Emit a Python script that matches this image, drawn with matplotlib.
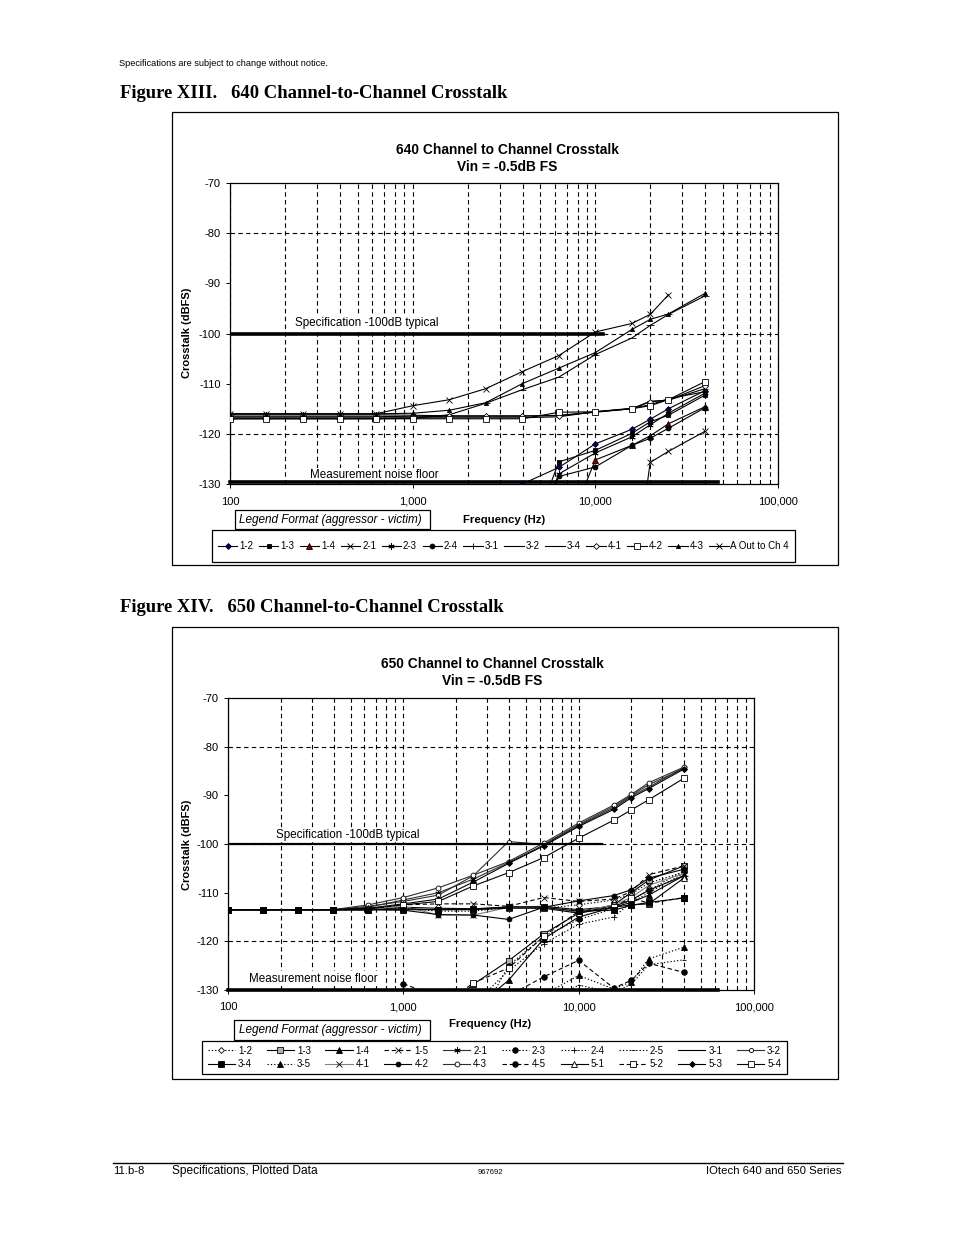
import numpy as np
import matplotlib
matplotlib.use('Agg')
import matplotlib.pyplot as plt
from matplotlib.patches import Rectangle
from matplotlib.lines import Line2D
from matplotlib.ticker import FuncFormatter, NullFormatter

plt.rcParams['font.family'] = ['Liberation Sans', 'DejaVu Sans']
plt.rcParams['axes.unicode_minus'] = False

nan = np.nan
W, H = 954, 1235

# test frequencies (Hz), shared by both charts
freq = [100, 158, 251, 398, 631, 1000, 1585, 2512, 3981, 6310, 10000, 15849, 19953, 25119, 39811]

# ---- 640 crosstalk (dBFS) ----
t_12 = [nan, nan, nan, nan, nan, nan, nan, nan, -130.0, -126.7, -122.0, -119.1, -117.1, -115.0, -111.4]
t_13 = [nan, nan, nan, nan, nan, nan, nan, nan, -145.0, -125.6, -123.3, -119.9, -117.6, -116.3, -112.3]
t_14 = [nan, nan, nan, nan, nan, nan, nan, nan, nan, -143.0, -125.2, -122.3, -120.4, -118.0, -114.6]
t_21 = [-116.0, -116.0, -116.0, -116.0, -116.0, -114.4, -113.2, -111.0, -107.6, -104.4, -99.7, -98.0, -96.2, -92.3, nan]
t_23 = [nan, nan, nan, nan, nan, nan, nan, nan, -146.0, -128.0, -123.8, -120.6, -118.2, -115.9, -111.9]
t_24 = [nan, nan, nan, nan, nan, nan, nan, nan, -147.0, -128.5, -126.6, -122.3, -120.9, -118.9, -114.8]
t_31 = [-116.5, -116.5, -116.5, -116.5, -116.5, -116.6, -116.5, -116.5, -116.5, -116.3, -115.7, -115.0, -113.5, -113.3, -111.0]
t_32 = [-116.8, -116.8, -116.8, -116.8, -116.8, -116.8, -116.8, -116.8, -116.8, -116.6, -115.6, -114.9, -114.2, -113.0, -111.6]
t_34 = [-117.0, -117.0, -117.0, -117.0, -117.0, -116.9, -116.2, -113.9, -111.2, -108.7, -104.2, -100.9, -98.4, -96.2, -92.5]
t_41 = [-116.2, -116.2, -116.2, -116.2, -116.2, -116.3, -116.4, -116.4, -116.4, -116.4, -115.6, -115.0, -113.6, -113.3, -110.4]
t_42 = [-117.0, -117.0, -117.0, -117.0, -117.0, -117.0, -117.0, -117.0, -117.0, -115.7, -115.6, -115.0, -114.4, -113.2, -109.6]
t_43 = [-116.0, -116.0, -116.0, -116.0, -116.0, -115.9, -115.3, -113.8, -110.0, -106.9, -103.8, -99.2, -97.2, -96.1, -92.0]
t_aout = [nan, nan, nan, nan, nan, nan, nan, nan, nan, nan, nan, -153.0, -125.7, -123.5, -119.5]

labels_640 = ['1-2', '1-3', '1-4', '2-1', '2-3', '2-4', '3-1', '3-2', '3-4', '4-1', '4-2', '4-3', 'A Out to Ch 4']
series_640 = [t_12, t_13, t_14, t_21, t_23, t_24, t_31, t_32, t_34, t_41, t_42, t_43, t_aout]

# ---- 650 crosstalk (dBFS) ----
b_12 = [-113.5, -113.5, -113.5, -113.5, -113.5, -113.2, -113.8, -113.8, -113.0, -113.2, -112.5, -111.5, -110.3, -108.0, -105.8]
b_13 = [nan, nan, nan, nan, nan, nan, -135.0, -128.8, -124.0, -118.5, -114.2, -112.5, -110.0, -107.4, -104.5]
b_14 = [nan, nan, nan, nan, nan, nan, nan, -134.0, -128.0, -119.5, -115.0, -113.0, -112.0, -110.5, -106.5]
b_15 = [-113.5, -113.5, -113.5, -113.5, -113.5, -112.5, -112.3, -112.3, -112.8, -111.0, -111.8, -111.3, -109.8, -106.3, -104.5]
b_21 = [-113.5, -113.5, -113.5, -113.5, -113.0, -111.5, -110.0, -107.2, -103.8, -100.2, -96.2, -92.6, -90.2, -88.3, -84.3]
b_23 = [nan, nan, nan, nan, nan, nan, nan, -138.0, -125.0, -119.0, -115.5, -113.3, -111.5, -109.5, -105.5]
b_24 = [nan, nan, nan, nan, nan, nan, nan, -133.0, -126.0, -120.5, -116.5, -115.0, -112.0, -110.0, -106.0]
b_25 = [nan, nan, nan, nan, nan, nan, nan, nan, nan, -133.0, -129.0, -130.5, -128.8, -124.8, -123.8]
b_31 = [-113.5, -113.5, -113.5, -113.5, -113.5, -113.0, -113.2, -113.3, -113.0, -112.8, -113.5, -112.8, -111.5, -109.5, -106.5]
b_32 = [-113.5, -113.5, -113.5, -113.5, -112.8, -111.8, -110.5, -106.5, -99.5, -100.1, -96.0, -92.3, -90.0, -87.8, -84.5]
b_34 = [-113.5, -113.5, -113.5, -113.5, -113.5, -113.5, -113.5, -113.4, -112.9, -113.0, -113.8, -113.6, -112.6, -112.0, -111.1]
b_35 = [nan, nan, nan, nan, nan, nan, nan, nan, -135.0, -131.0, -127.0, -129.8, -128.3, -123.6, -121.2]
b_41 = [-113.5, -113.5, -113.5, -113.5, -113.5, -112.8, -114.6, -114.6, -113.0, -113.0, -114.0, -112.5, -111.0, -108.5, -106.0]
b_42 = [-113.5, -113.5, -113.5, -113.5, -113.5, -113.6, -114.5, -114.6, -115.5, -113.0, -111.7, -110.6, -109.4, -107.0, -105.2]
b_43 = [-113.5, -113.5, -113.5, -113.5, -112.5, -111.0, -109.0, -106.4, -103.6, -99.8, -95.7, -92.0, -89.8, -87.4, -84.2]
b_45 = [nan, nan, nan, nan, nan, -128.7, -131.5, -133.0, -131.2, -127.3, -123.9, -129.6, -128.0, -124.5, -126.4]
b_51 = [-113.5, -113.5, -113.5, -113.5, -113.5, -113.3, -113.5, -113.5, -113.2, -113.2, -114.2, -113.0, -112.5, -112.3, -107.0]
b_52 = [nan, nan, nan, nan, nan, nan, -134.0, -128.5, -125.5, -119.0, -113.8, -113.0, -111.0, -112.2, -111.0]
b_53 = [-113.5, -113.5, -113.5, -113.5, -113.2, -112.3, -111.3, -107.8, -104.0, -100.4, -96.4, -92.9, -90.5, -88.6, -84.6]
b_54 = [-113.5, -113.5, -113.5, -113.5, -113.3, -112.5, -111.8, -108.6, -105.9, -102.8, -98.8, -95.1, -93.0, -90.9, -86.5]

labels_650 = ['1-2', '1-3', '1-4', '1-5', '2-1', '2-3', '2-4', '2-5', '3-1', '3-2',
              '3-4', '3-5', '4-1', '4-2', '4-3', '4-5', '5-1', '5-2', '5-3', '5-4']
series_650 = [b_12, b_13, b_14, b_15, b_21, b_23, b_24, b_25, b_31, b_32,
              b_34, b_35, b_41, b_42, b_43, b_45, b_51, b_52, b_53, b_54]

spec_level = -100
noise_640 = -129.7
noise_650 = -130

# ---- styles ----
DOT = (0, (1.2, 1.8))
DASH = (0, (4, 2.5))
asterisk = (6, 2, 0)
# (linestyle, line colour, marker, size, face colour)
styles_640 = [
    ('-', 'black', 'D', 3, '#000080'),
    ('-', 'black', 's', 3.5, 'black'),
    ('-', 'black', '^', 4, '#800000'),
    ('-', 'black', 'x', 4, 'none'),
    ('-', 'black', asterisk, 4.5, 'black'),
    ('-', 'black', 'o', 3.5, 'black'),
    ('-', 'black', '+', 5, 'black'),
    ('-', 'black', '_', 3.5, 'black'),
    ('-', 'black', '_', 5.5, 'black'),
    ('-', 'black', 'D', 3, 'white'),
    ('-', 'black', 's', 4, 'white'),
    ('-', 'black', '^', 3, 'black'),
    ('-', 'black', 'x', 4, 'none'),
]
styles_650 = [
    (DOT, 'black', 'D', 3, 'white'),
    ('-', 'black', 's', 4, '#b0b0b0'),
    ('-', 'black', '^', 4, 'black'),
    (DASH, 'black', 'x', 4, 'none'),
    ('-', '#303030', asterisk, 4.5, 'black'),
    (DOT, 'black', 'o', 4, 'black'),
    (DOT, 'black', '+', 5, 'black'),
    (DOT, 'black', '_', 3.5, 'black'),
    ('-', 'black', '_', 5.5, 'black'),
    ('-', '#303030', 'o', 3, 'white'),
    ('-', 'black', 's', 4.5, 'black'),
    (DOT, 'black', '^', 4, 'black'),
    ('-', '#808080', 'x', 4, 'none'),
    ('-', 'black', 'o', 3.5, 'black'),
    ('-', '#303030', 'o', 3.5, 'white'),
    (DASH, 'black', 'o', 4, 'black'),
    ('-', 'black', '^', 4, 'white'),
    (DASH, 'black', 's', 4, 'white'),
    ('-', 'black', 'D', 3, 'black'),
    ('-', 'black', 's', 4, 'white'),
]
# series whose markers sit on top of the crowded flat section
front_640 = ['1-3', '2-3']
front_650 = ['3-4']


def fx(px):
    return px / W


def fy(py):
    return 1 - py / H


fig = plt.figure(figsize=(W / 100, H / 100), dpi=100)


def box(x0, y0, x1, y1, lw=0.9):
    fig.add_artist(Rectangle((fx(x0), fy(y1)), fx(x1) - fx(x0), fy(y0) - fy(y1),
                             transform=fig.transFigure, fill=False, ec='black', lw=lw))


def make_axes(left, top, right, bottom):
    ax = fig.add_axes([fx(left), fy(bottom), fx(right) - fx(left), fy(top) - fy(bottom)])
    ax.set_xscale('log')
    ax.set_xlim(100, 100000)
    ax.set_ylim(-130, -70)
    ax.set_yticks(range(-130, -69, 10))
    ax.xaxis.set_major_formatter(FuncFormatter(lambda v, p: '{:,}'.format(int(round(v)))))
    ax.xaxis.set_minor_formatter(NullFormatter())
    ax.grid(axis='x', which='both', color='black', lw=0.8, linestyle=(0, (4, 3)))
    for yv in (-120, -100, -80):
        ax.axhline(yv, color='black', lw=0.8, linestyle=(0, (4, 3)), zorder=1)
    for s in ax.spines.values():
        s.set_linewidth(0.9)
    ax.tick_params(axis='both', which='major', labelsize=8, length=3, width=0.7)
    ax.tick_params(axis='x', which='major', pad=6)
    ax.tick_params(axis='x', which='minor', length=0)
    return ax


def draw_series(ax, series, labels, styles, front):
    handles = []
    for vals, lab, (ls, lc, mk, ms, mf) in zip(series, labels, styles):
        z = 3.5 if lab in front else 3
        ln, = ax.plot(freq, vals, linestyle=ls, color=lc, lw=0.8, marker=mk, ms=ms,
                      mfc=mf, mec='black', mew=0.6, label=lab, zorder=z)
        handles.append(ln)
    return handles


def chart_texts(cx, ty, ylab_y, xlab_x, xlab_y, name):
    fig.text(fx(cx), fy(ty), name + ' Channel to Channel Crosstalk', ha='center', va='center',
             fontsize=9.9, fontweight='bold')
    fig.text(fx(cx), fy(ty + 17), 'Vin = -0.5dB FS', ha='center', va='center',
             fontsize=9.9, fontweight='bold')
    fig.text(fx(187), fy(ylab_y), 'Crosstalk (dBFS)', rotation=90, ha='center', va='center',
             fontsize=8, fontweight='bold')
    fig.text(fx(xlab_x), fy(xlab_y), 'Frequency (Hz)', ha='center', va='center',
             fontsize=8.2, fontweight='bold')


# ---- page header / titles ----
fig.text(fx(119), fy(63), 'Specifications are subject to change without notice.', fontsize=6.6, va='center')
fig.text(fx(120), fy(93), 'Figure XIII.   640 Channel-to-Channel Crosstalk', family='Liberation Serif',
         fontweight='bold', fontsize=13.4, va='center')
fig.text(fx(120), fy(607), 'Figure XIV.   650 Channel-to-Channel Crosstalk', family='Liberation Serif',
         fontweight='bold', fontsize=13.4, va='center')

# ================= 640 chart =================
box(172, 112, 838, 565)
ax1 = make_axes(230, 183, 778, 484)
h1 = draw_series(ax1, series_640, labels_640, styles_640, front_640)
ax1.plot([100, 11000], [spec_level, spec_level], color='black', lw=2.6, zorder=4)
ax1.plot([100, 47000], [noise_640, noise_640], color='black', lw=2.6, zorder=4, clip_on=False)
ax1.text(227, -97.9, 'Specification -100dB typical', fontsize=8.4, va='center', zorder=2,
         bbox=dict(fc='white', ec='none', pad=1))
ax1.text(274, -128.2, 'Measurement noise floor', fontsize=8.4, va='center', zorder=2,
         bbox=dict(fc='white', ec='none', pad=1))
chart_texts(507, 150, 333, 504, 520, '640')
fig.text(fx(239), fy(519.5), 'Legend Format (aggressor - victim)', fontsize=8.5, style='italic', va='center')
box(235, 510, 430, 529)
box(212, 530, 795, 562)
fig.legend(h1, labels_640, loc='center', ncol=13, mode='expand', frameon=False,
           bbox_to_anchor=(fx(214), fy(560), fx(793) - fx(214), fy(532) - fy(560)),
           fontsize=7, handlelength=2.0, handletextpad=0.2, columnspacing=0.3, borderaxespad=0)

# ================= 650 chart =================
box(172, 627, 838, 1079)
ax2 = make_axes(228, 698, 754, 990)
h2 = draw_series(ax2, series_650, labels_650, styles_650, front_650)
ax2.plot([100, 13600], [spec_level, spec_level], color='black', lw=1.6, zorder=4)
ax2.plot([100, 62000], [noise_650, noise_650], color='black', lw=2.6, zorder=4, clip_on=False)
ax2.text(188, -98.15, 'Specification -100dB typical', fontsize=8.4, va='center', zorder=2,
         bbox=dict(fc='white', ec='none', pad=1))
ax2.text(132, -127.7, 'Measurement noise floor', fontsize=8.4, va='center', zorder=2,
         bbox=dict(fc='white', ec='none', pad=1))
chart_texts(492, 664, 845, 490, 1024, '650')
fig.text(fx(239), fy(1029.5), 'Legend Format (aggressor - victim)', fontsize=8.5, style='italic', va='center')
box(234, 1020, 430, 1040)
box(202, 1041, 787, 1074)
order = []
for c in range(10):
    order += [c, c + 10]
fig.legend([h2[i] for i in order], [labels_650[i] for i in order], loc='center', ncol=10,
           mode='expand', frameon=False,
           bbox_to_anchor=(fx(204), fy(1073), fx(785) - fx(204), fy(1042) - fy(1073)),
           fontsize=7, handlelength=2.8, handletextpad=0.3, columnspacing=0.3,
           labelspacing=0.35, borderaxespad=0)

# ---- footer ----
fig.add_artist(Line2D([fx(113), fx(843)], [fy(1163), fy(1163)], transform=fig.transFigure,
                      color='black', lw=1))
fig.text(fx(113), fy(1171), '11.b-8', fontsize=8.2, va='center')
fig.text(fx(172), fy(1171), 'Specifications, Plotted Data', fontsize=8.6, va='center')
fig.text(fx(490), fy(1172), '967692', fontsize=5.5, va='center', ha='center')
fig.text(fx(842), fy(1171), 'IOtech 640 and 650 Series', fontsize=8.2, va='center', ha='right')

fig.savefig('out.png', dpi=100)
